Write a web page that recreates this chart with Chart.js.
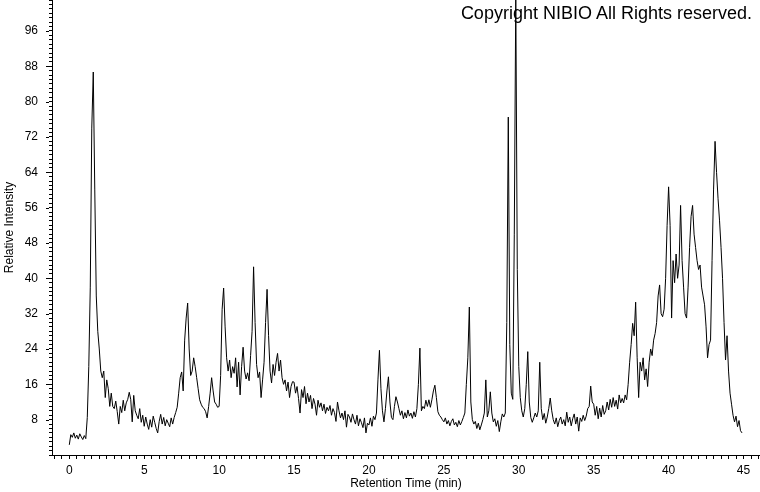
<!DOCTYPE html>
<html>
<head>
<meta charset="utf-8">
<script src="https://cdn.jsdelivr.net/npm/chart.js@4.4.1/dist/chart.umd.min.js"></script>
<style>
html,body{margin:0;padding:0;background:#fff;}
#wrap{position:relative;width:760px;height:492px;background:#fff;}
#copy{position:absolute;right:8px;top:4px;font:18px/18px 'Liberation Sans',Arial,sans-serif;color:#000;white-space:nowrap;}
</style>
</head>
<body>
<div id="wrap">
<canvas id="c" width="760" height="492"></canvas>
<div id="copy">Copyright NIBIO All Rights reserved.</div>
</div>
<script>
// Sampling of the chromatogram (retention time in minutes)
const timeStart = 0.0;
const timeStep = 0.1;

// Relative intensity, one row per minute
const intensity00to09 = [
  2.3, 4.6, 4.0, 5.0, 3.8, 4.5, 3.6, 4.8, 4.1, 3.5,
  4.4, 3.7, 8.5, 20, 38, 74, 86.7, 60, 36, 28,
  24, 19, 17.5, 19, 13, 17, 15, 11, 14, 11,
  10.5, 12.2, 9.8, 7, 11, 9.6, 12.4, 10, 11.8, 12.6,
  14.2, 12.6, 7.5, 13.5, 10, 9, 8.2, 10.5, 7.4, 9,
  6.5, 8.6, 7, 5.8, 8, 6.3, 8.8, 7.4, 6, 5.0,
  7.6, 9.2, 7, 8.5, 6.6, 8, 7.2, 6.4, 8.4, 7,
  8.5, 9.6, 10.8, 14, 17.5, 18.8, 14.5, 26, 31, 34.4,
  24, 18, 19, 22, 20, 17.5, 15, 12.5, 11.5, 10.8,
  10.5, 9.8, 8.4, 11, 14, 17.5, 14.5, 12, 11.5, 10.8
];
const intensity10to19 = [
  11, 18, 33, 37.8, 29, 22, 19, 21.5, 17.5, 20,
  18.5, 22, 15.4, 21, 13.6, 20, 24.4, 19, 17.2, 18.6,
  16.8, 22.5, 28, 42.6, 30, 20.5, 17.5, 18.8, 13, 17,
  21, 30, 37.5, 27, 19, 16.3, 20.5, 18, 21, 23,
  19, 21.5, 17.5, 16, 17, 14.5, 16.5, 13, 15.5, 16.6,
  16.5, 14, 15.5, 12.8, 9.5, 14.8, 13, 15.5, 11.6, 14,
  12, 13.5, 10.5, 12.8, 11.5, 9, 12.4, 10.8, 11.8, 10,
  11.5, 9.4, 10.8, 10, 11.2, 9, 10.5, 9.6, 7.6, 12,
  10, 8.4, 9.5, 8, 10, 6.3, 9.2, 8.6, 7.4, 9.3,
  8, 7, 9, 6.6, 8.2, 7.3, 6.2, 8.4, 5, 7.2
];
const intensity20to29 = [
  6.8, 8.4, 6.5, 8.8, 8, 9.5, 17, 23.7, 15, 10,
  7.5, 10.5, 14.5, 17.7, 12, 8.5, 8, 11, 13.2, 12,
  10.5, 9, 10, 8.2, 9.6, 8.4, 10.2, 8.8, 9.5, 8.3,
  9.8, 8.6, 10.5, 16, 24.2, 10, 11, 10.5, 12.4, 11,
  12.5, 10.8, 12.5, 14.5, 15.8, 13, 9.8, 9, 8.6, 8,
  7.5, 8.4, 7, 7.8, 6.6, 7.6, 8.2, 6.8, 7.4, 6.4,
  7.8, 6.8, 7.6, 8.5, 9.5, 16, 22, 33.5, 12, 8,
  7, 7.6, 6, 7.2, 5.7, 6.8, 8, 9.5, 17, 8.6,
  10, 14.3, 9.5, 7.5, 8.2, 6.5, 7.8, 5.3, 7.5, 9.3,
  8.6, 9.5, 30, 76.5, 25, 14, 12.6, 50, 104, 42
];
const intensity30to39 = [
  20, 13, 10, 8.6, 10.5, 16, 23.4, 12, 8.5, 7.4,
  8.4, 9.5, 8.6, 10, 21, 10.5, 8, 9.4, 7.2, 8.6,
  10.5, 12.9, 10, 8, 7, 8.4, 6.4, 7.8, 8.6, 7,
  8, 6.6, 9.7, 7.4, 8.6, 6.6, 8.2, 9.3, 7, 8.6,
  5.4, 8.4, 7.6, 9, 7.8, 8.8, 10.5, 11, 15.6, 12,
  11.5, 9, 11, 8.2, 10.6, 8.6, 11.2, 9.2, 10, 12,
  10.2, 12.6, 10.8, 13, 11, 12.4, 10.4, 13.6, 11.8, 12.8,
  11.8, 13.6, 12.5, 16, 21, 25, 29.8, 27, 34.6, 22,
  13, 21, 19, 22, 17, 19.5, 15.5, 21, 24, 22.5,
  26, 27.5, 30, 36, 38.5, 32, 31.3, 33, 40, 52
];
const intensity40to44 = [
  60.7, 52, 31, 44, 39, 45.5, 40, 43, 56.5, 44,
  38, 32, 31, 38, 47, 54, 56.5, 50, 47, 44,
  42, 43, 38, 36, 34, 29, 22, 25, 26, 44,
  60, 71, 64, 58, 53, 47, 40, 30, 21.5, 27,
  19, 14, 11.5, 9, 7.5, 8.8, 6.4, 7.8, 5.5, 5
];

// Labelled ticks
const xTickLabels = [0, 5, 10, 15, 20, 25, 30, 35, 40, 45];
const yTickLabels = [8, 16, 24, 32, 40, 48, 56, 64, 72, 80, 88, 96];

const intensity = [].concat(intensity00to09, intensity10to19, intensity20to29, intensity30to39, intensity40to44);
const points = intensity.map((v, i) => ({ x: +(timeStart + i * timeStep).toFixed(2), y: v }));

const FONT = "'Liberation Sans', Arial, sans-serif";
Chart.defaults.font.family = FONT;
Chart.defaults.font.size = 12;
Chart.defaults.color = '#000';

const isLabel = (list, v) => list.some(t => Math.abs(t - v) < 1e-6);

// Longer tick marks at the labelled y values (drawn through the y scale)
const majorTicks = {
  id: 'majorTicks',
  afterDraw(chart) {
    const y = chart.scales.y;
    const ctx = chart.ctx;
    const left = chart.chartArea.left;
    ctx.save();
    ctx.strokeStyle = '#000';
    ctx.lineWidth = 1;
    ctx.beginPath();
    yTickLabels.forEach(v => {
      const py = Math.round(y.getPixelForValue(v)) + 0.5;
      ctx.moveTo(left - 6, py);
      ctx.lineTo(left - 3, py);
    });
    ctx.stroke();
    ctx.restore();
  }
};

new Chart(document.getElementById('c'), {
  type: 'line',
  data: {
    datasets: [{
      data: points,
      borderColor: '#000',
      borderWidth: 1,
      pointRadius: 0,
      tension: 0,
      fill: false
    }]
  },
  plugins: [majorTicks],
  options: {
    responsive: false,
    animation: false,
    events: [],
    layout: { padding: 0 },
    plugins: { legend: { display: false }, tooltip: { enabled: false }, title: { display: false } },
    scales: {
      x: {
        type: 'linear',
        min: -1.155,
        max: 46.1,
        grid: { display: true, drawOnChartArea: false, drawTicks: true, tickLength: 4, tickColor: '#000', tickWidth: 1 },
        border: { display: true, color: '#000', width: 1 },
        ticks: {
          stepSize: 0.5,
          includeBounds: false,
          autoSkip: false,
          maxRotation: 0,
          minRotation: 0,
          padding: 4,
          font: { size: 12 },
          callback: v => isLabel(xTickLabels, v) ? String(Math.round(v)) : ''
        },
        title: { display: true, text: 'Retention Time (min)', font: { size: 12 }, padding: { top: 0, bottom: 1 } },
        afterFit: s => { s.height = 37; s.paddingLeft = 0; s.paddingRight = 0; }
      },
      y: {
        type: 'linear',
        min: 0,
        max: 103,
        grid: { display: true, drawOnChartArea: false, drawTicks: true, tickLength: 3, tickColor: '#000', tickWidth: 1 },
        border: { display: true, color: '#000', width: 1 },
        ticks: {
          stepSize: 1,
          autoSkip: false,
          padding: 11,
          font: { size: 12 },
          callback: v => isLabel(yTickLabels, v) ? String(Math.round(v)) : ''
        },
        title: { display: true, text: 'Relative Intensity', font: { size: 12 }, padding: { top: 2, bottom: 0 } },
        afterFit: s => { s.width = 52; s.paddingTop = 0; s.paddingBottom = 0; }
      }
    }
  }
});
</script>
</body>
</html>
